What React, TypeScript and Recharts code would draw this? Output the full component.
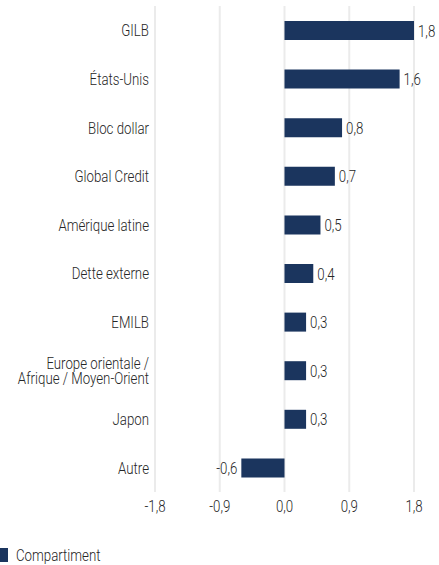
import { BarChart, Bar, XAxis, YAxis, CartesianGrid, LabelList } from 'recharts'

const categories = [
  'GILB',
  'États-Unis',
  'Bloc dollar',
  'Global Credit',
  'Amérique latine',
  'Dette externe',
  'EMILB',
  'Europe orientale /\nAfrique / Moyen-Orient',
  'Japon',
  'Autre',
]
const compartiment = [1.8, 1.6, 0.8, 0.7, 0.5, 0.4, 0.3, 0.3, 0.3, -0.6]
const xTicks = [-1.8, -0.9, 0, 0.9, 1.8]

// no condensed font installed, so squeeze Roboto Light horizontally
const FONT = 'Roboto, "Noto Sans", sans-serif'
const SQUEEZE = 0.78
const FS = 17
const NAVY = '#1b355e'
const TEXT = '#262626'

const data = categories.map((name, i) => ({ name, value: compartiment[i] }))

function fmt(n: number): string {
  return n.toFixed(1).replace('.', ',')
}

function NarrowText({ x, y, anchor, children }: any) {
  return (
    <g transform={`translate(${x},${y}) scale(${SQUEEZE},1)`}>
      <text x={0} y={0} textAnchor={anchor} fill={TEXT} fontSize={FS} fontWeight={300} fontFamily={FONT}>
        {children}
      </text>
    </g>
  )
}

function CategoryTick(props: any) {
  const { x, y, payload } = props
  const lines = String(payload.value).split('\n')
  const lh = 15
  const start = -((lines.length - 1) * lh) / 2 + 6
  return (
    <g>
      {lines.map((l, i) => (
        <NarrowText key={i} x={x} y={y + start + i * lh} anchor="end">
          {l}
        </NarrowText>
      ))}
    </g>
  )
}

function ValueTick(props: any) {
  const { x, y, payload } = props
  return (
    <NarrowText x={x} y={y + 12} anchor="middle">
      {fmt(payload.value)}
    </NarrowText>
  )
}

function ValueLabel(props: any) {
  const { x, y, width, height, value } = props
  const neg = value < 0
  const end = x + width
  const lx = neg ? Math.min(x, end) - 4 : Math.max(x, end) + 4
  return (
    <NarrowText x={lx} y={y + height / 2 + 6} anchor={neg ? 'end' : 'start'}>
      {fmt(value)}
    </NarrowText>
  )
}

export default function App() {
  return (
    <div style={{ position: 'fixed', left: 0, top: 0, width: 439, height: 565, background: '#fff', overflow: 'hidden' }}>
      <BarChart
        width={439}
        height={535}
        data={data}
        layout="vertical"
        margin={{ top: 6, right: 25, left: 0, bottom: 13 }}
        barCategoryGap={15}
      >
        <CartesianGrid horizontal={false} stroke="#ebebeb" strokeWidth={2} />
        <XAxis
          type="number"
          domain={[-1.8, 1.8]}
          ticks={xTicks}
          axisLine={false}
          tickLine={false}
          height={30}
          tick={<ValueTick />}
        />
        <YAxis
          type="category"
          dataKey="name"
          width={155}
          axisLine={false}
          tickLine={false}
          tick={<CategoryTick />}
          tickMargin={0}
        />
        <Bar dataKey="value" fill={NAVY} isAnimationActive={false}>
          <LabelList dataKey="value" content={<ValueLabel />} />
        </Bar>
      </BarChart>
      <div
        style={{
          position: 'absolute',
          left: -4,
          top: 546,
          height: 18,
          lineHeight: '18px',
          display: 'flex',
          alignItems: 'center',
          fontFamily: FONT,
          fontWeight: 300,
          fontSize: FS,
          color: TEXT,
        }}
      >
        <span style={{ display: 'inline-block', width: 12, height: 14, background: NAVY, marginRight: 8 }} />
        <span style={{ display: 'inline-block', transform: `scaleX(${SQUEEZE})`, transformOrigin: 'left center' }}>
          Compartiment
        </span>
      </div>
    </div>
  )
}
